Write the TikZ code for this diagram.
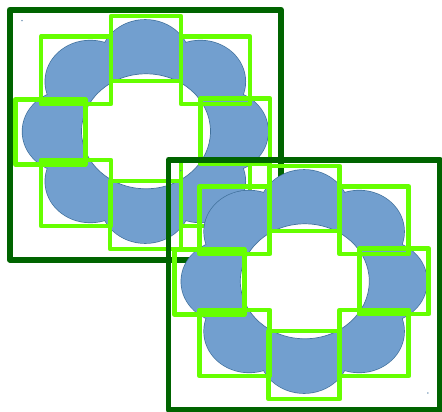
\documentclass[tikz,border=0pt]{standalone}
\definecolor{petalblue}{RGB}{114,159,207}
\definecolor{petalline}{RGB}{65,113,156}
\definecolor{boxgreen}{RGB}{102,255,0}
\definecolor{framegreen}{RGB}{0,100,0}
\tikzset{
  petal/.style={fill=petalblue},
  petaledge/.style={draw=petalline,line width=1.4pt},
  hole/.style={fill=white,draw=petalline,line width=0.7pt},
  segbox/.style={draw=boxgreen,line width=4.8pt,line join=round},
  frame/.style={draw=framegreen,line width=5.8pt,line join=round},
  speck/.style={fill=petalline}
}
% One ring of eight petals with its segment boxes and outer frame
\newcommand\ringset{%
  \foreach \a in {0,45,...,315}
    \draw[petaledge] ({145.3+77.8*cos(\a)},{131.5+70.6*sin(\a)})
      ellipse [x radius=45pt,y radius=41pt];
  \foreach \a in {0,45,...,315}
    \fill[petal] ({145.3+77.8*cos(\a)},{131.5+70.6*sin(\a)})
      ellipse [x radius=45pt,y radius=41pt];
  \filldraw[hole] (146,131.3) ellipse [x radius=64.5pt,y radius=57.5pt];
  \fill[speck] (22,20.7) circle (0.7pt);
  \fill[speck] (269,243) circle (0.7pt);
  % segment boxes
  \draw[segbox] (111,16) rectangle (181,81);
  \draw[segbox] (41,36.5) rectangle (111,104);
  \draw[segbox] (181,36.5) rectangle (250,104);
  \draw[segbox] (15.3,99.5) rectangle (85.3,164.3);
  \draw[segbox] (200.3,98.7) rectangle (270,164);
  \draw[segbox] (41,160) rectangle (111,226);
  \draw[segbox] (181,160) rectangle (250,226);
  \draw[segbox] (110,181) rectangle (181,249);
  % frame
  \draw[frame] (9.7,9.7) rectangle (281,259.6);
}
\begin{document}
\begin{tikzpicture}[x=1pt,y=-1pt]
\useasboundingbox (0,0) rectangle (442,412);
\begin{scope}
  \ringset
\end{scope}
\begin{scope}[shift={(158.8,150)}]
  \ringset
\end{scope}
\end{tikzpicture}
\end{document}
